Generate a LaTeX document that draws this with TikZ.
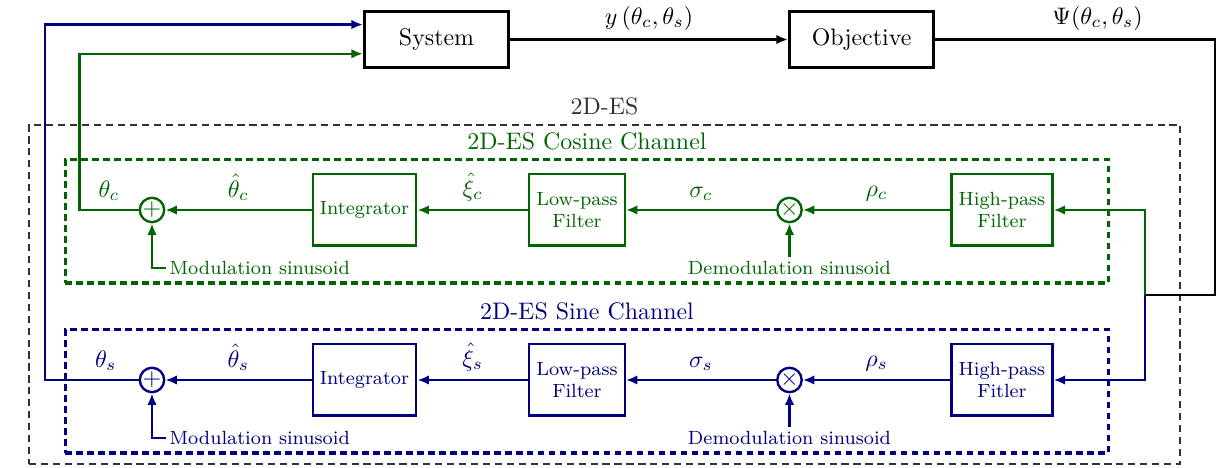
\documentclass[tikz,border=0pt]{standalone}
\usepackage{xcolor}
\usepackage{amsmath}
\usepackage{tikz}
\usetikzlibrary{arrows.meta,positioning,calc}
\definecolor{cosgrn}{RGB}{0,100,0}
\definecolor{sinblu}{RGB}{0,0,128}
\definecolor{grisF}{RGB}{50,50,50}
\tikzset{
  blockbox/.style={rectangle, draw=#1, line width=1pt, text=#1, align=center,
                   font=\footnotesize, minimum height=1.05cm, inner sep=3pt},
  topbox/.style={rectangle, draw=black, line width=1.3pt, minimum width=2.12cm,
                 minimum height=0.83cm},
  junc/.style={circle, draw=#1, line width=1pt, text=#1, inner sep=0pt,
               minimum size=0.34cm},
  chan/.style={rectangle, draw=#1, line width=1.3pt, dash pattern=on 2.8pt off 1.8pt,
               minimum width=15.35cm, minimum height=1.81cm},
  sig/.style={text=#1, font=\footnotesize, inner sep=1.5pt},
  arr/.style={-{Latex[length=1.7mm,width=1.4mm]}, line width=1pt, color=#1},
  arr/.default=black,
}

\begin{document}
\begin{tikzpicture}[node distance=3.125cm, on grid]
    \useasboundingbox (0,0) rectangle (18.015,-6.868);
    % frames
    \node[rectangle, draw=grisF, line width=0.9pt, dash pattern=on 3pt off 2pt,
          minimum width=16.93cm, minimum height=4.985cm] (es) at (8.89,-4.331) {};
    \node[above, text=grisF] at (es.north) {2D-ES};
    \node[chan=cosgrn] (cosfr) at (8.632,-3.257) {};
    \node[above, text=cosgrn] at (cosfr.north) {2D-ES Cosine Channel};
    \node[chan=sinblu] (sinfr) at (8.632,-5.757) {};
    \node[above, text=sinblu] at (sinfr.north) {2D-ES Sine Channel};
    % plant
    \node[topbox] (sys) at (6.42,-0.581) {System};
    \node[topbox] (obj) at (12.67,-0.581) {Objective};
    \draw[arr] (sys) -- node[above] {$y\left(\theta_c,\theta_s\right)$} (obj);
    % cosine channel
    \node[blockbox=cosgrn] (hpfc) at (14.735,-3.088) {High-pass\\Filter};
    \node[junc=cosgrn, left=of hpfc] (mulc) {$\times$};
    \node[blockbox=cosgrn, left=of mulc] (lpfc) {Low-pass\\Filter};
    \node[blockbox=cosgrn, left=of lpfc] (intc) {Integrator};
    \node[junc=cosgrn, left=of intc] (sumc) {$+$};
    \node[sig=cosgrn, below=0.85cm of mulc] (demc) {Demodulation sinusoid};
    \node[sig=cosgrn, anchor=west] (modc) at ($(sumc)+(0.2,-0.85)$) {Modulation sinusoid};
    \draw[arr=cosgrn] (hpfc) -- node[above] {$\rho_c$} (mulc);
    \draw[arr=cosgrn] (mulc) -- node[above] {$\sigma_c$} (lpfc);
    \draw[arr=cosgrn] (lpfc) -- node[above] {$\hat{\xi}_c$} (intc);
    \draw[arr=cosgrn] (intc) -- node[above] {$\hat{\theta}_c$} (sumc);
    \draw[arr=cosgrn] (demc) -- (mulc);
    \draw[arr=cosgrn] (modc.west) -| (sumc.south);
    % sine channel
    \node[blockbox=sinblu] (hpfs) at (14.735,-5.588) {High-pass\\Fitler};
    \node[junc=sinblu, left=of hpfs] (muls) {$\times$};
    \node[blockbox=sinblu, left=of muls] (lpfs) {Low-pass\\Filter};
    \node[blockbox=sinblu, left=of lpfs] (ints) {Integrator};
    \node[junc=sinblu, left=of ints] (sums) {$+$};
    \node[sig=sinblu, below=0.85cm of muls] (dems) {Demodulation sinusoid};
    \node[sig=sinblu, anchor=west] (mods) at ($(sums)+(0.2,-0.85)$) {Modulation sinusoid};
    \draw[arr=sinblu] (hpfs) -- node[above] {$\rho_s$} (muls);
    \draw[arr=sinblu] (muls) -- node[above] {$\sigma_s$} (lpfs);
    \draw[arr=sinblu] (lpfs) -- node[above] {$\hat{\xi}_s$} (ints);
    \draw[arr=sinblu] (ints) -- node[above] {$\hat{\theta}_s$} (sums);
    \draw[arr=sinblu] (dems) -- (muls);
    \draw[arr=sinblu] (mods.west) -| (sums.south);
    % parameters back to the system
    \draw[arr=cosgrn] (sumc.west) -- node[above] {$\theta_c$} ++(-0.87,0)
        |- ([yshift=-0.21cm]sys.west);
    \draw[arr=sinblu] (sums.west) -- node[above, pos=0.35] {$\theta_s$} ++(-1.38,0)
        |- ([yshift=0.22cm]sys.west);
    % objective to both high-pass filters
    \coordinate (fbc) at (17.87,-4.34);
    \coordinate (split) at (16.84,-4.34);
    \draw[line width=1pt] (obj.east) -- node[above, pos=0.58] {$\Psi(\theta_c,\theta_s)$}
        (obj.east -| fbc) -- (fbc) -- (split);
    \draw[arr=cosgrn] (split) |- (hpfc.east);
    \draw[arr=sinblu] (split) |- (hpfs.east);
\end{tikzpicture}
\end{document}
